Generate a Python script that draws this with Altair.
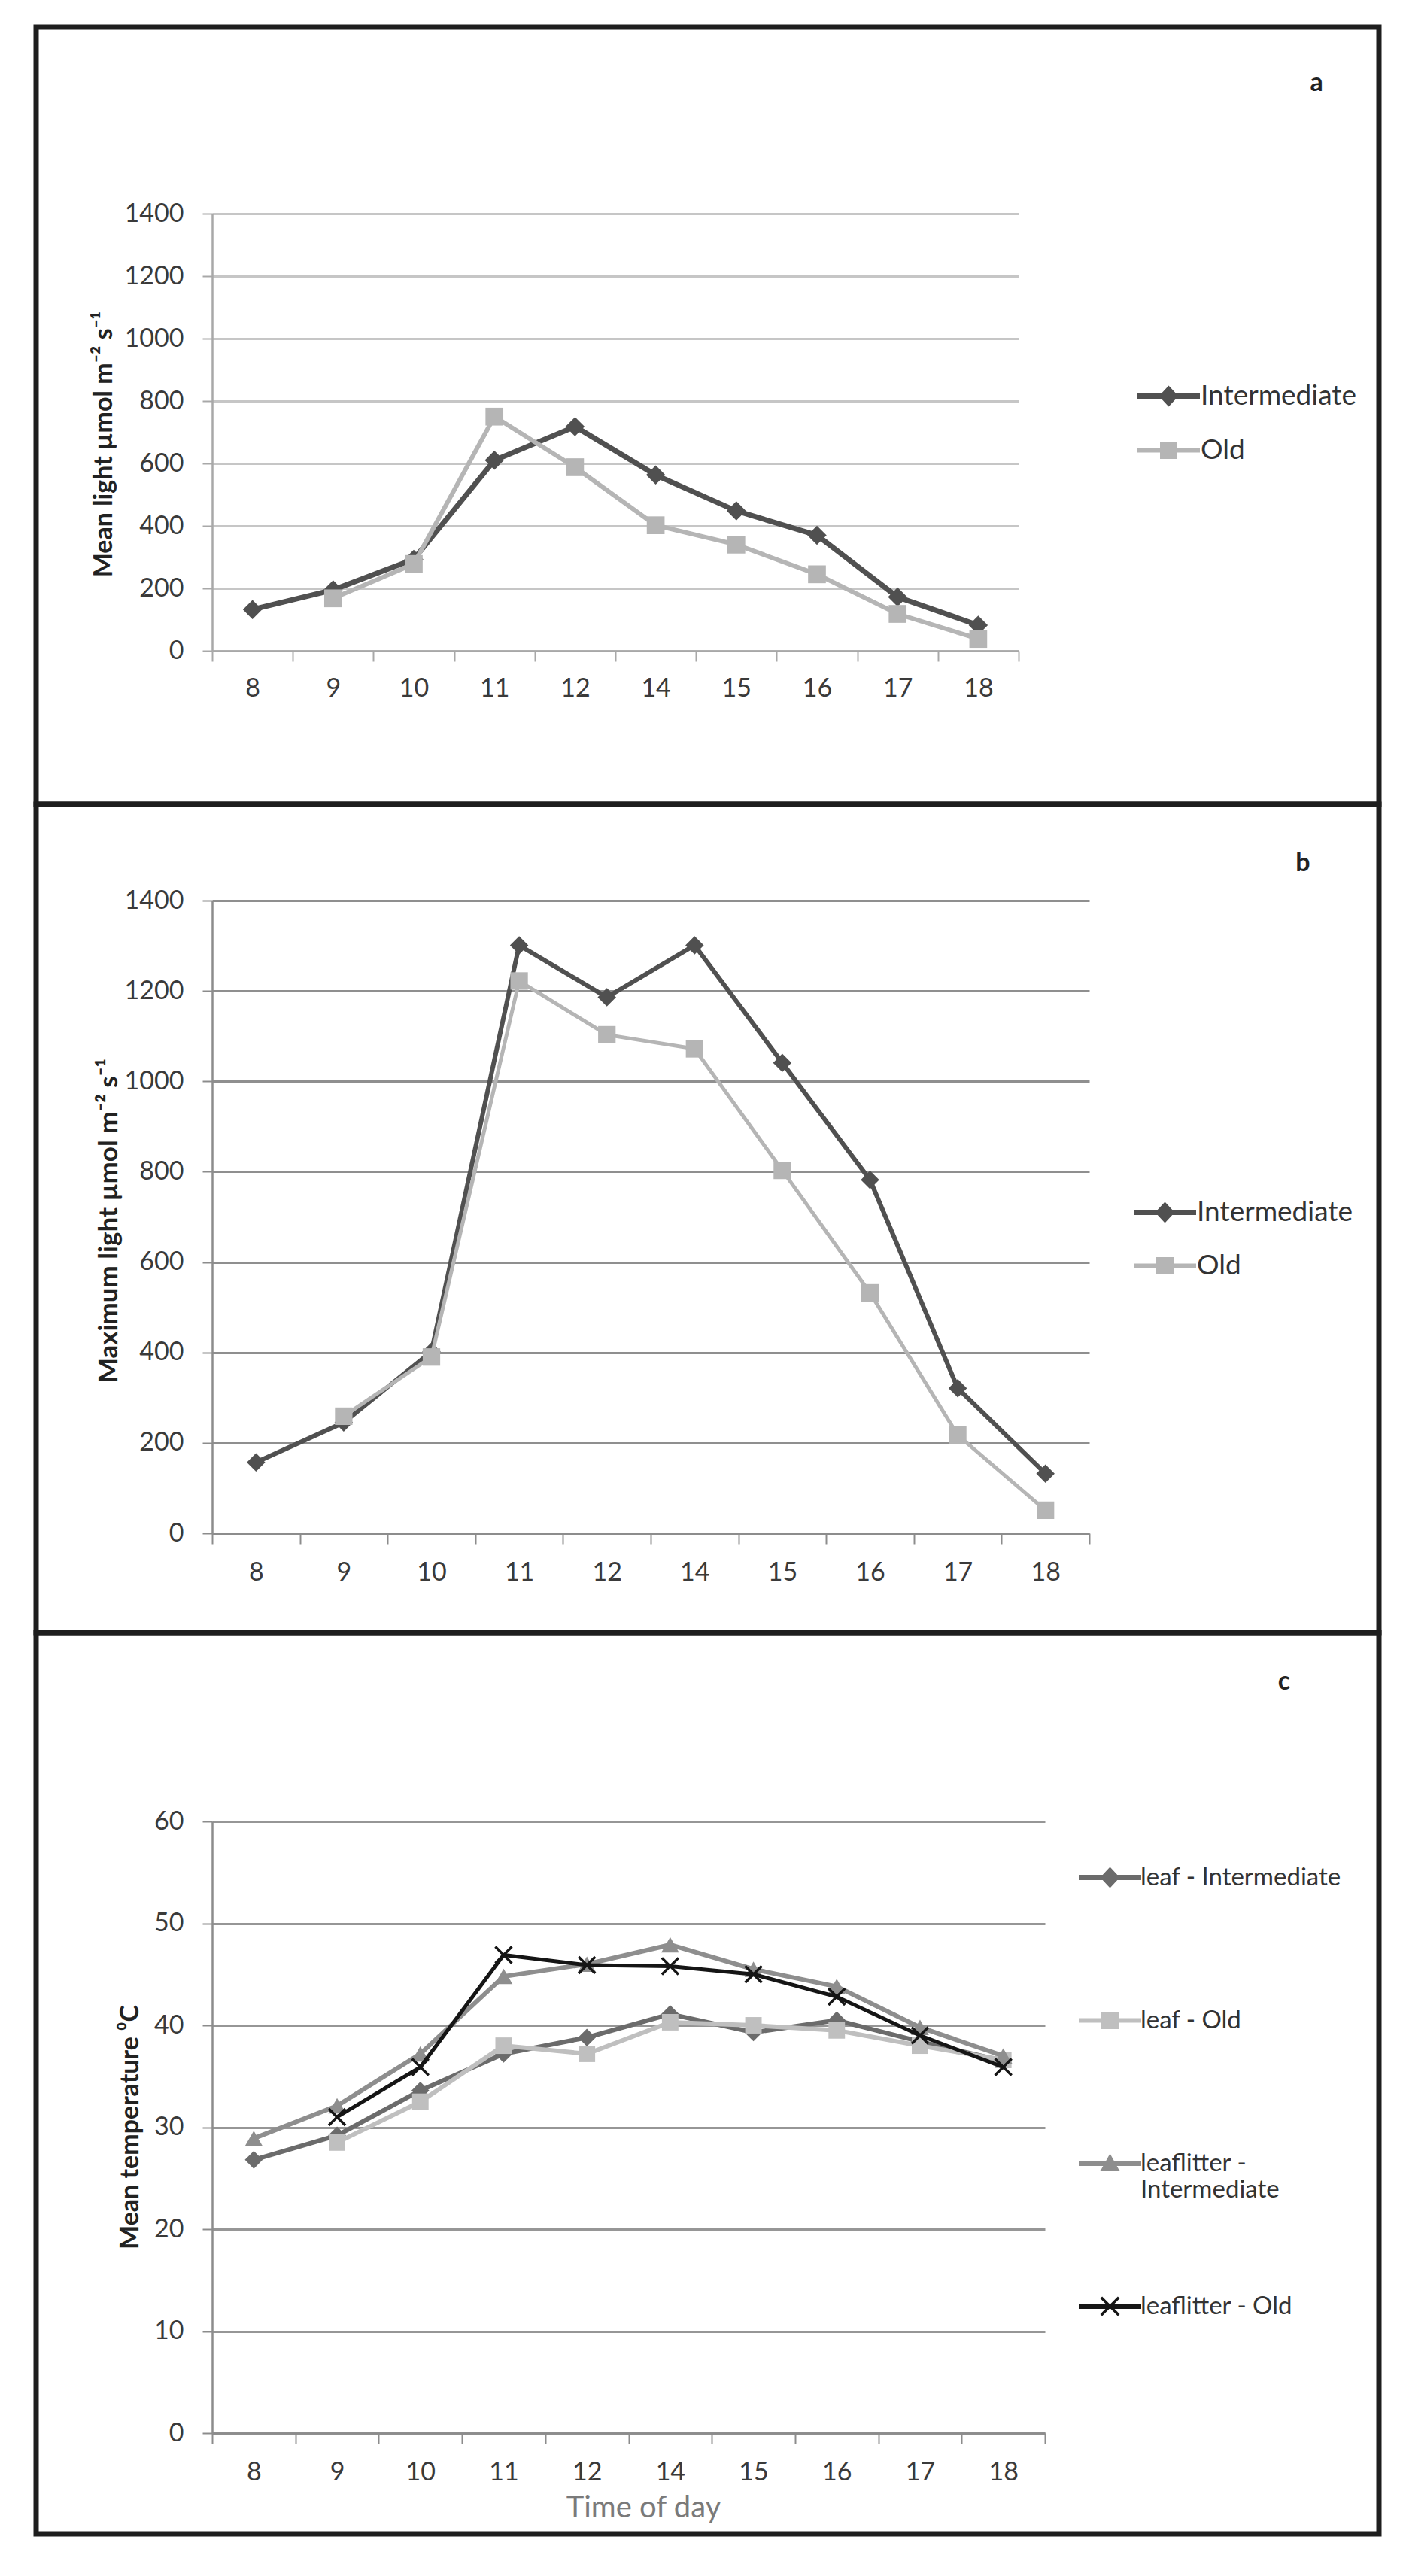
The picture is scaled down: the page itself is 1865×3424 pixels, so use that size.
import altair as alt
import pandas as pd

# ---------------- data ----------------
hours = ["8", "9", "10", "11", "12", "14", "15", "16", "17", "18"]

# panel a : mean light
a_names = ["Intermediate", "Old"]
a_intermediate = [132, 195, 293, 610, 718, 563, 448, 370, 172, 82]
a_old = [None, 168, 278, 750, 588, 402, 340, 245, 118, 38]

# panel b : maximum light
b_names = ["Intermediate", "Old"]
b_intermediate = [157, 245, 402, 1301, 1186, 1301, 1041, 782, 321, 132]
b_old = [None, 259, 390, 1222, 1103, 1072, 803, 532, 217, 51]

# panel c : mean temperature
c_names = ["leaf  - Intermediate", "leaf  - Old", "leaflitter - Intermediate", "leaflitter - Old"]
c_leaf_int = [26.8, 29.2, 33.6, 37.2, 38.8, 41.1, 39.3, 40.5, 38.4, 36.5]
c_leaf_old = [None, 28.5, 32.5, 38.0, 37.2, 40.3, 40.0, 39.5, 38.0, 36.6]
c_litter_int = [28.9, 32.1, 37.2, 44.8, 46.0, 47.9, 45.5, 43.8, 39.8, 37.0]
c_litter_old = [None, 31.0, 35.9, 46.9, 45.9, 45.8, 45.0, 42.8, 39.0, 35.9]

a_ticks = [0, 200, 400, 600, 800, 1000, 1200, 1400]
c_ticks = [0, 10, 20, 30, 40, 50, 60]

# ---------------- style ----------------
FONT = "Lato"
LABEL = "#3a3a3a"
D = 24.0          # nominal legend symbol diameter
U = D / 2.0

X_UNIT = [(-1, -0.8), (-0.8, -1), (0, -0.2), (0.8, -1), (1, -0.8), (0.2, 0),
          (1, 0.8), (0.8, 1), (0, 0.2), (-0.8, 1), (-1, 0.8), (-0.2, 0)]
X_PATH = "M" + "L".join(f"{x},{y}" for x, y in X_UNIT) + "Z"


def poly_path(polys, dy=0.0):
    parts = []
    for pts in polys:
        parts.append("M" + "L".join(f"{x / U:.3f},{(y + dy) / U:.3f}" for x, y in pts) + "Z")
    return " ".join(parts)


def stub(t=3.5):
    return [(-41.5, -t), (41.5, -t), (41.5, t), (-41.5, t)]


DIAMOND = [(-13, 0), (0, -14), (13, 0), (0, 14)]
SQUARE = [(-11.5, -11.5), (11.5, -11.5), (11.5, 11.5), (-11.5, 11.5)]
TRIANGLE = [(0, -13), (13, 10.5), (-13, 10.5)]
XMARK = [(x * 13, y * 13) for x, y in X_UNIT]


def series_df(vals):
    return pd.DataFrame([{"hour": h, "value": v} for h, v in zip(hours, vals) if v is not None])


def make_axes(H, top, ymax, yvals, dom_color, grid_color, ytitle, tx, ty, label_pad_x,
              title_size=34, xtitle=None):
    yaxis = alt.Axis(values=yvals, format="d", grid=True, gridColor=grid_color, gridWidth=3,
                     domainColor=dom_color, domainWidth=2.5, tickColor=dom_color, tickWidth=2,
                     tickSize=13, labelFont=FONT, labelFontSize=34, labelColor=LABEL,
                     labelPadding=25, title=ytitle, titleFont=FONT, titleFontSize=title_size,
                     titleFontWeight="bold", titleColor="#222222", titleX=tx, titleY=ty,
                     titleAngle=270, titleBaseline="middle", titleAlign="center")
    xkw = dict(tickBand="extent", grid=False, domainColor=dom_color, domainWidth=2.5,
               tickColor=dom_color, tickWidth=2, tickSize=14, labelFont=FONT,
               labelFontSize=34, labelColor=LABEL, labelPadding=label_pad_x, labelAngle=0)
    if xtitle:
        xkw.update(title=xtitle, titleFont=FONT, titleFontSize=40, titleFontWeight="normal",
                   titleColor="#7a7a7a", titleX=573, titleY=99, titleBaseline="middle",
                   titleAlign="center")
    else:
        xkw.update(title=None)
    xaxis = alt.Axis(**xkw)
    X = alt.X("hour:N", scale=alt.Scale(type="band", domain=hours, paddingInner=0, paddingOuter=0),
              bandPosition=0.5, axis=xaxis)
    Y = alt.Y("value:Q", scale=alt.Scale(domain=[0, ymax], range=[H, top], nice=False, zero=True),
              axis=yaxis)
    return X, Y


def series_layers(vals, X, Y, color, shape, size, width):
    df = series_df(vals)
    line = alt.Chart(df).mark_line(color=color, strokeWidth=width).encode(x=X, y=Y)
    pts = alt.Chart(df).mark_point(color=color, filled=True, shape=shape, size=size,
                                   opacity=1).encode(x=X, y=Y)
    return [line, pts]


def legend_layer(names, colors, paths, lx, ly, row_pad, font_size, label_expr=None):
    df = pd.DataFrame({"series": names})
    kw = dict(title=None, orient="none", legendX=lx, legendY=ly, symbolSize=D * D,
              labelFont=FONT, labelFontSize=font_size, labelColor="#333333", labelOffset=24,
              labelLimit=800, rowPadding=row_pad, padding=0, symbolStrokeWidth=0,
              symbolOpacity=1)
    if label_expr:
        kw["labelExpr"] = label_expr
    leg = alt.Legend(**kw)
    return alt.Chart(df).mark_point(filled=True, opacity=0).encode(
        color=alt.Color("series:N", scale=alt.Scale(domain=names, range=colors), legend=leg),
        shape=alt.Shape("series:N", scale=alt.Scale(domain=names, range=paths), legend=leg),
    )


def border(y, y2):
    return alt.Chart(pd.DataFrame({"k": [0]})).mark_rect(
        filled=False, color="#1e1e1e", strokeWidth=7
    ).encode(x=alt.value(-234), x2=alt.value(1551), y=alt.value(y), y2=alt.value(y2))


def letter(txt, x, y):
    return alt.Chart(pd.DataFrame({"k": [0]})).mark_text(
        text=txt, font=FONT, fontSize=34, fontWeight="bold", color="#222222"
    ).encode(x=alt.value(x), y=alt.value(y))


INT_COL = "#505050"
OLD_COL = "#b5b5b5"

# ---------------- panel a ----------------
Wa, Ha, topa = 1072, 829, 248
Xa, Ya = make_axes(Ha, topa, 1400, a_ticks, "#a8a8a8", "#c6c6c6",
                   "Mean light µmol m⁻² s⁻¹", -144, 554, 19, title_size=34)
panel_a = alt.layer(
    border(0, 1033),
    letter("a", 1468, 75),
    *series_layers(a_intermediate, Xa, Ya, INT_COL, "diamond", 650, 7),
    *series_layers(a_old, Xa, Ya, OLD_COL, "square", 560, 6),
    legend_layer(a_names, [INT_COL, OLD_COL],
                 [poly_path([stub(), DIAMOND]), poly_path([stub(3), SQUARE])],
                 1265 - U, 484 - U, 34, 37),
).properties(width=Wa, height=Ha)

# ---------------- panel b ----------------
Wb, Hb, topb = 1166, 1173, 332
Xb, Yb = make_axes(Hb, topb, 1400, a_ticks, "#8c8c8c", "#8f8f8f",
                   "Maximum light µmol m⁻² s⁻¹", -138, 757, 21, title_size=35)
panel_b = alt.layer(
    border(204, 1305),
    letter("b", 1450, 283),
    *series_layers(b_intermediate, Xb, Yb, INT_COL, "diamond", 600, 6),
    *series_layers(b_old, Xb, Yb, OLD_COL, "square", 540, 5),
    legend_layer(b_names, [INT_COL, OLD_COL],
                 [poly_path([stub(), DIAMOND]), poly_path([stub(3), SQUARE])],
                 1260 - U, 740 - U, 33, 37),
).properties(width=Wb, height=Hb)

# ---------------- panel c ----------------
Wc, Hc, topc = 1107, 1196, 383
Xc, Yc = make_axes(Hc, topc, 60, c_ticks, "#8c8c8c", "#969696",
                   "Mean temperature ⁰C", -109, 789, 21, title_size=34, xtitle="Time of day")
c_colors = ["#6b6b6b", "#bfbfbf", "#8e8e8e", "#151515"]
c_paths = [poly_path([stub(), DIAMOND]), poly_path([stub(3), SQUARE]),
           poly_path([stub(), TRIANGLE]), poly_path([stub(), XMARK])]
panel_c = alt.layer(
    border(132, 1330),
    letter("c", 1425, 198),
    *series_layers(c_leaf_int, Xc, Yc, c_colors[0], "diamond", 560, 6),
    *series_layers(c_leaf_old, Xc, Yc, c_colors[1], "square", 480, 6),
    *series_layers(c_litter_int, Xc, Yc, c_colors[2], "triangle-up", 560, 6),
    *series_layers(c_litter_old, Xc, Yc, c_colors[3], X_PATH, 600, 5),
    legend_layer(c_names, c_colors, c_paths, 1189 - U, 441, 121, 33,
                 label_expr="datum.label == 'leaflitter - Intermediate' ? ['leaflitter -', 'Intermediate'] : [datum.label, '']"),
).properties(width=Wc, height=Hc)

chart = alt.vconcat(panel_a, panel_b, panel_c, spacing=0, bounds="flush").resolve_scale(
    color="independent", shape="independent"
).configure_view(stroke=None).properties(
    padding={"left": 36, "top": 24, "right": 10, "bottom": 10},
    background="white",
)

chart.save("out.html", embed_options={"renderer": "svg", "actions": False})
